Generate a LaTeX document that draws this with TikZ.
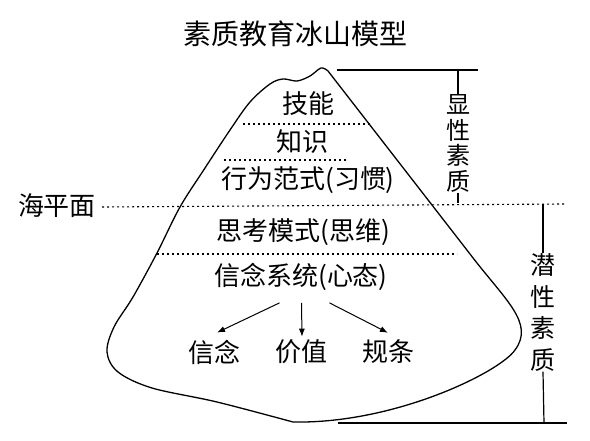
\documentclass[tikz,border=0pt]{standalone}
\usepackage{fontspec}
\setmainfont{Noto Sans CJK SC}
\usetikzlibrary{arrows.meta}
\begin{document}
\begin{tikzpicture}[x=1pt,y=-1pt,
  txt/.style={font=\fontsize{26}{28}\selectfont, inner sep=0pt},
  vtxt/.style={txt, align=center},
  outline/.style={line width=1.3pt, line join=round},
  dotline/.style={line width=1.1pt, dash pattern=on 2pt off 3pt},
  bracket/.style={line width=1.2pt},
  arr/.style={line width=1pt, -{Latex[length=8pt,width=6pt]}}]
\useasboundingbox (0,0) rectangle (590,441);
\fill[white] (0,0) rectangle (590,441);

% title
\node[txt, font=\fontsize{28}{30}\selectfont] (title) at (295,34) {素质教育冰山模型};

% iceberg outline
\draw[outline] plot[smooth, tension=0.55] coordinates {(293,422) (217,402) (152,388) (118,372) (107,352) (114,327) (133,297) (157,253) (180,207) (205,168) (230,130) (250,102) (270,84) (283,79) (297,81) (310,76) (321,68) (328,71)}
  -- (470,254) .. controls (505,300) and (535,323) .. (515,350)
  .. controls (500,372) and (395,424) .. (293,422);

% dotted layer lines
\draw[dotline] (243,124) -- (370,124);
\draw[dotline] (224,160) -- (348,160);
\draw[dotline] (157,254) -- (457,254);
\node[txt] (sea) at (57,206) {海平面};
\coordinate (seaR) at (565,204);
\draw[dotline] (sea.east) ++(6pt,-1pt) -- (seaR);

% layer texts
\node[txt] (jineng) at (308,104) {技能};
\node[txt] (zhishi) at (302,142) {知识};
\node[txt] (xingwei) at (308,180) {行为范式(习惯)};
\node[txt] (sikao) at (303,232) {思考模式(思维)};
\node[txt] (sys) at (301,277) {信念系统(心态)};
\node[txt] (xn) at (214,352) {信念};
\node[txt] (jz) at (301,352) {价值};
\node[txt] (gt) at (388,352) {规条};

% arrows
\draw[arr] ([xshift=-21.5pt,yshift=-12pt]sys.south) -- ([xshift=3pt,yshift=7pt]xn.north);
\draw[arr] ([xshift=0.5pt,yshift=-12pt]sys.south) -- ([xshift=1pt,yshift=3pt]jz.north);
\draw[arr] ([xshift=28.5pt,yshift=-12pt]sys.south) -- ([xshift=0pt,yshift=7pt]gt.north);

% explicit quality bracket
\node[vtxt, font=\fontsize{24}{25.7}\selectfont] (xian) at (458,143.5) {显\\性\\素\\质};
\coordinate (xtL) at (337,70);
\coordinate (xtR) at (478,70);
\coordinate (xt) at (458,70);
\coordinate (xb) at (458,203);
\draw[bracket] (xtL) -- (xtR);
\draw[bracket] (xt) -- (xian.north);
\draw[bracket] (xian.south) -- (xb);

% latent quality bracket
\node[vtxt, font=\fontsize{25}{31.7}\selectfont] (qian) at (543,312.5) {潜\\性\\素\\质};
\coordinate (qt) at (543,204);
\coordinate (qb) at (544,423);
\coordinate (qbL) at (338,423);
\coordinate (qbR) at (567,423);
\draw[bracket] (qt) -- (qian.north);
\draw[bracket] (qian.south) -- (qb);
\draw[bracket] (qbL) -- (qbR);
\end{tikzpicture}
\end{document}
